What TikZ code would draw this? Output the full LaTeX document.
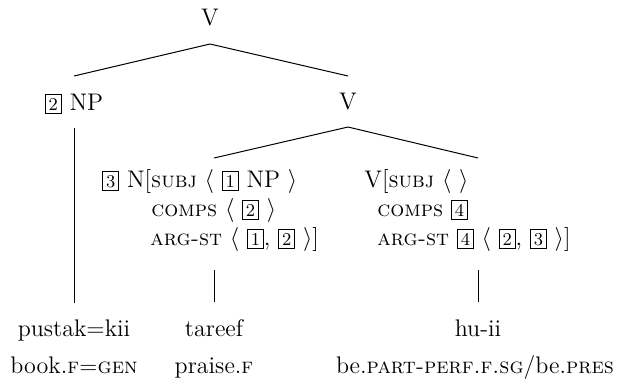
\documentclass[tikz,border=0pt]{standalone}
\usetikzlibrary{calc}
\newcommand{\tg}[1]{{\fboxsep=1.5pt\fboxrule=0.4pt\fbox{\fontsize{9}{9}\selectfont #1}}}
\newcommand{\la}{$\langle$}
\newcommand{\ra}{$\rangle$}
\newcommand{\fsc}[1]{{\fontsize{11}{13}\selectfont\textsc{#1}}}
\begin{document}
\begin{tikzpicture}[x=0.5pt,y=-0.5pt,
  every node/.style={inner sep=0pt, font=\fontsize{12}{14}\selectfont},
  lab/.style={anchor=base},
  row/.style={anchor=base west},
  branch/.style={line width=0.5pt}]
\useasboundingbox (0,0) rectangle (620,381);
\node[lab] (top) at (210,25) {V};
\node[lab] (np) at (74,110) {\tg{2} NP};
\node[lab] (vm) at (348,109) {V};
\node[row] (l1) at (102,187) {\tg{3} N[\fsc{subj} \la\ \tg{1} NP \ra};
\node[row] (l2) at (151,216) {\fsc{comps} \la\ \tg{2} \ra};
\node[row] (l3) at (150,245) {\fsc{arg-st} \la\ \tg{1}, \tg{2} \ra]};
\node[row] (r1) at (364,187) {V[\fsc{subj} \la\ \ra};
\node[row] (r2) at (377,216) {\fsc{comps} \tg{4}};
\node[row] (r3) at (377,245) {\fsc{arg-st} \tg{4} \la\ \tg{2}, \tg{3} \ra]};
\node[lab] (w1) at (74,336) {pustak=kii};
\node[lab] (w2) at (214,336) {tareef};
\node[lab] (w3) at (478,336) {hu-ii};
\node[lab] (g1) at (74,373) {book.\fsc{f=gen}};
\node[lab] (g2) at (214,373) {praise.\fsc{f}};
\node[lab] (g3) at (475,373) {be.\fsc{part-perf.f.sg}/be.\fsc{pres}};
\coordinate (a1) at ($(top.base)+(0,19)$);
\draw[branch] (a1) -- ($(np.base)+(0,-34)$);
\draw[branch] (a1) -- ($(vm.base)+(0,-33)$);
\draw[branch] ($(np.base)+(0,18)$) -- ($(w1.base)+(0,-33)$);
\coordinate (a2) at ($(vm.base)+(0,18)$);
\draw[branch] (a2) -- ($(l1.base -| w2.base)+(0,-29)$);
\draw[branch] (a2) -- ($(r1.base -| w3.base)+(0,-29)$);
\draw[branch] ($(l3.base -| w2.base)+(0,25)$) -- ($(w2.base)+(0,-34)$);
\draw[branch] ($(r3.base -| w3.base)+(0,25)$) -- ($(w3.base)+(0,-34)$);
\end{tikzpicture}
\end{document}
